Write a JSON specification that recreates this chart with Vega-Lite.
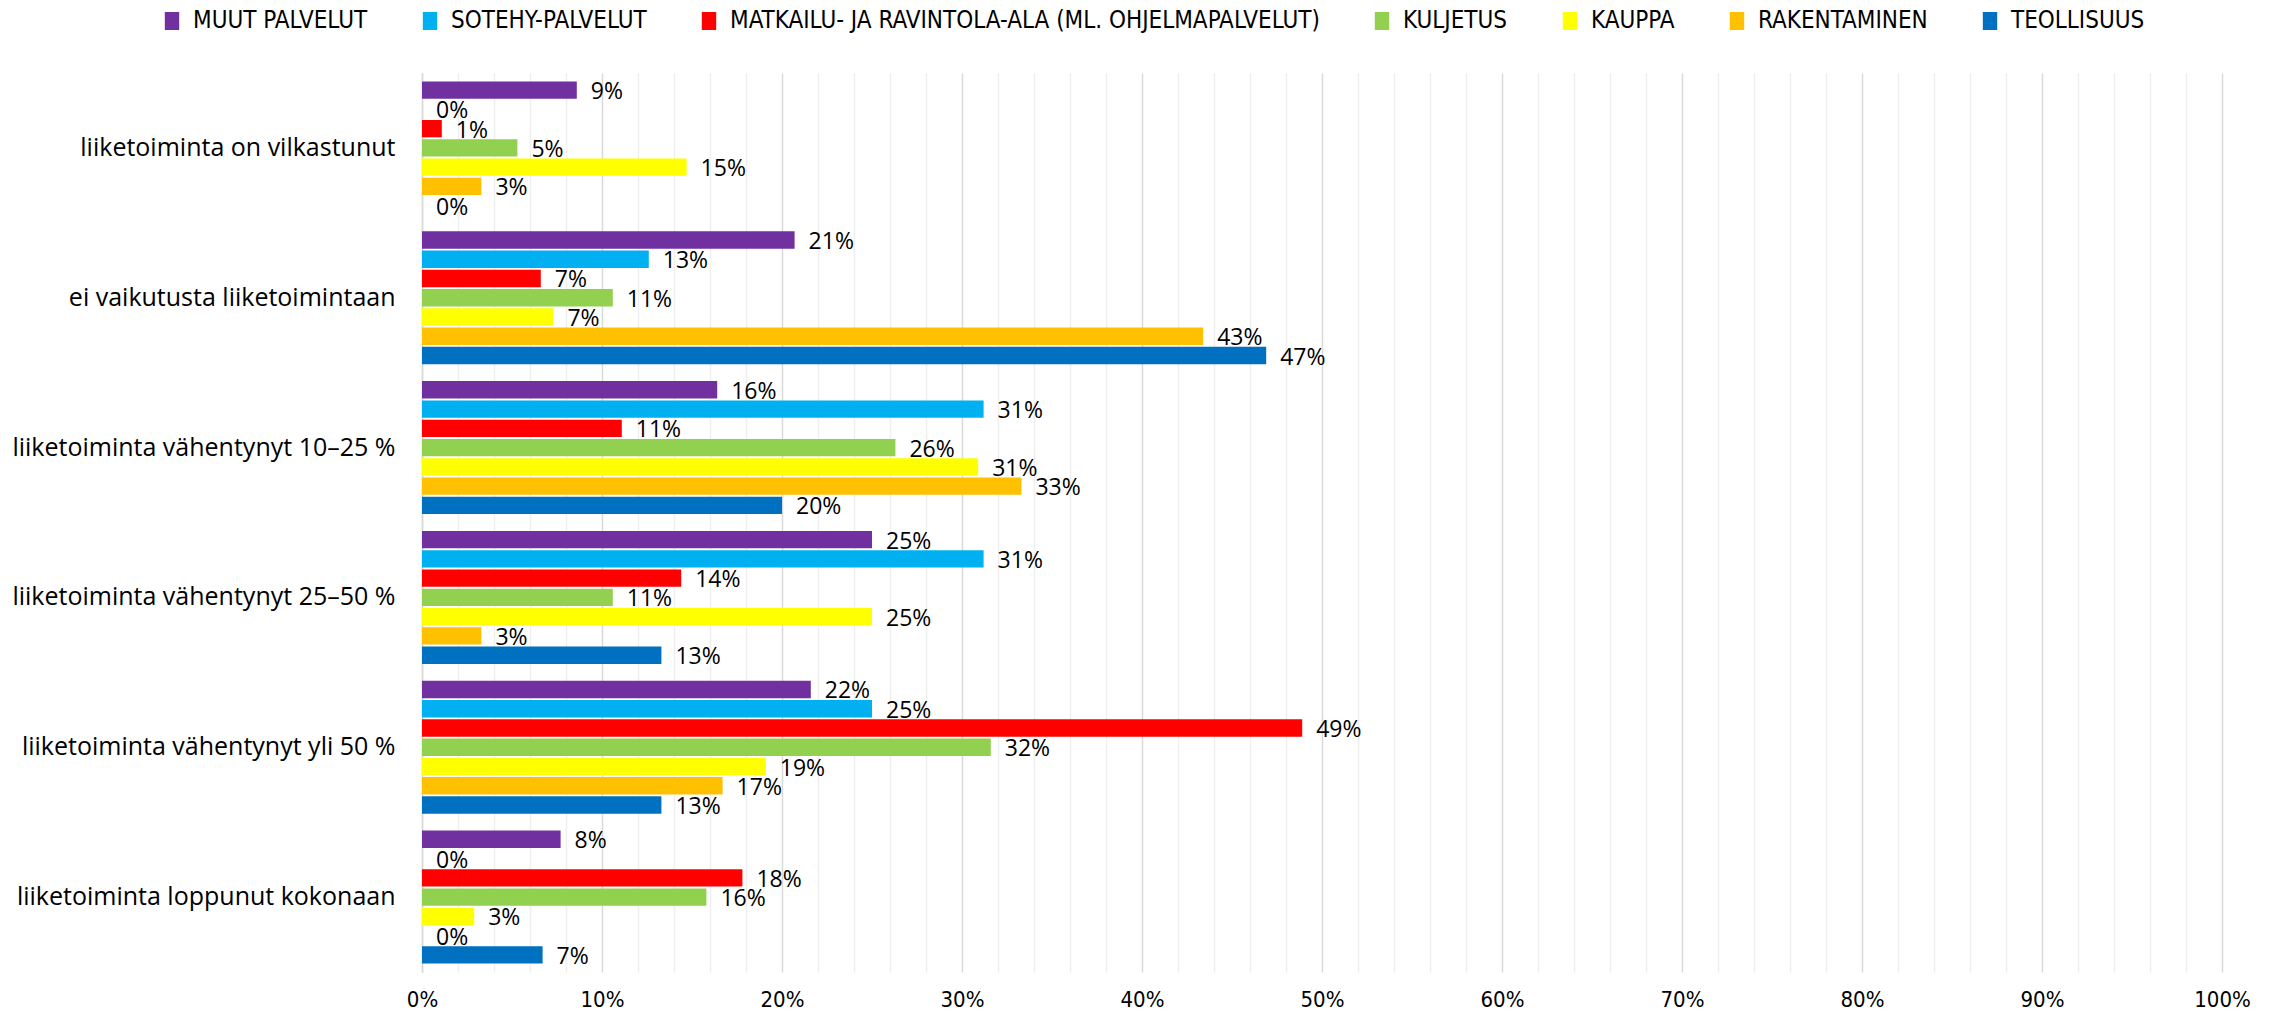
{
  "$schema": "https://vega.github.io/schema/vega-lite/v6.json",
  "width": 1800,
  "height": 899,
  "autosize": {"type": "none"},
  "padding": {"left": 422, "top": 73, "right": 60, "bottom": 44},
  "background": "white",
  "config": {"view": {"stroke": null}, "font": "Open Sans"},
  "data": {
    "values": [
      {"vaikutus": "liiketoiminta on vilkastunut", "toimiala": "MUUT PALVELUT", "osuus": 0.086},
      {"vaikutus": "liiketoiminta on vilkastunut", "toimiala": "SOTEHY-PALVELUT", "osuus": 0},
      {"vaikutus": "liiketoiminta on vilkastunut", "toimiala": "MATKAILU- JA RAVINTOLA-ALA (ML. OHJELMAPALVELUT)", "osuus": 0.011},
      {"vaikutus": "liiketoiminta on vilkastunut", "toimiala": "KULJETUS", "osuus": 0.053},
      {"vaikutus": "liiketoiminta on vilkastunut", "toimiala": "KAUPPA", "osuus": 0.147},
      {"vaikutus": "liiketoiminta on vilkastunut", "toimiala": "RAKENTAMINEN", "osuus": 0.033},
      {"vaikutus": "liiketoiminta on vilkastunut", "toimiala": "TEOLLISUUS", "osuus": 0},
      {"vaikutus": "ei vaikutusta liiketoimintaan", "toimiala": "MUUT PALVELUT", "osuus": 0.207},
      {"vaikutus": "ei vaikutusta liiketoimintaan", "toimiala": "SOTEHY-PALVELUT", "osuus": 0.126},
      {"vaikutus": "ei vaikutusta liiketoimintaan", "toimiala": "MATKAILU- JA RAVINTOLA-ALA (ML. OHJELMAPALVELUT)", "osuus": 0.066},
      {"vaikutus": "ei vaikutusta liiketoimintaan", "toimiala": "KULJETUS", "osuus": 0.106},
      {"vaikutus": "ei vaikutusta liiketoimintaan", "toimiala": "KAUPPA", "osuus": 0.073},
      {"vaikutus": "ei vaikutusta liiketoimintaan", "toimiala": "RAKENTAMINEN", "osuus": 0.434},
      {"vaikutus": "ei vaikutusta liiketoimintaan", "toimiala": "TEOLLISUUS", "osuus": 0.469},
      {"vaikutus": "liiketoiminta vähentynyt 10–25 %", "toimiala": "MUUT PALVELUT", "osuus": 0.164},
      {"vaikutus": "liiketoiminta vähentynyt 10–25 %", "toimiala": "SOTEHY-PALVELUT", "osuus": 0.312},
      {"vaikutus": "liiketoiminta vähentynyt 10–25 %", "toimiala": "MATKAILU- JA RAVINTOLA-ALA (ML. OHJELMAPALVELUT)", "osuus": 0.111},
      {"vaikutus": "liiketoiminta vähentynyt 10–25 %", "toimiala": "KULJETUS", "osuus": 0.263},
      {"vaikutus": "liiketoiminta vähentynyt 10–25 %", "toimiala": "KAUPPA", "osuus": 0.309},
      {"vaikutus": "liiketoiminta vähentynyt 10–25 %", "toimiala": "RAKENTAMINEN", "osuus": 0.333},
      {"vaikutus": "liiketoiminta vähentynyt 10–25 %", "toimiala": "TEOLLISUUS", "osuus": 0.2},
      {"vaikutus": "liiketoiminta vähentynyt 25–50 %", "toimiala": "MUUT PALVELUT", "osuus": 0.25},
      {"vaikutus": "liiketoiminta vähentynyt 25–50 %", "toimiala": "SOTEHY-PALVELUT", "osuus": 0.312},
      {"vaikutus": "liiketoiminta vähentynyt 25–50 %", "toimiala": "MATKAILU- JA RAVINTOLA-ALA (ML. OHJELMAPALVELUT)", "osuus": 0.144},
      {"vaikutus": "liiketoiminta vähentynyt 25–50 %", "toimiala": "KULJETUS", "osuus": 0.106},
      {"vaikutus": "liiketoiminta vähentynyt 25–50 %", "toimiala": "KAUPPA", "osuus": 0.25},
      {"vaikutus": "liiketoiminta vähentynyt 25–50 %", "toimiala": "RAKENTAMINEN", "osuus": 0.033},
      {"vaikutus": "liiketoiminta vähentynyt 25–50 %", "toimiala": "TEOLLISUUS", "osuus": 0.133},
      {"vaikutus": "liiketoiminta vähentynyt yli 50 %", "toimiala": "MUUT PALVELUT", "osuus": 0.216},
      {"vaikutus": "liiketoiminta vähentynyt yli 50 %", "toimiala": "SOTEHY-PALVELUT", "osuus": 0.25},
      {"vaikutus": "liiketoiminta vähentynyt yli 50 %", "toimiala": "MATKAILU- JA RAVINTOLA-ALA (ML. OHJELMAPALVELUT)", "osuus": 0.489},
      {"vaikutus": "liiketoiminta vähentynyt yli 50 %", "toimiala": "KULJETUS", "osuus": 0.316},
      {"vaikutus": "liiketoiminta vähentynyt yli 50 %", "toimiala": "KAUPPA", "osuus": 0.191},
      {"vaikutus": "liiketoiminta vähentynyt yli 50 %", "toimiala": "RAKENTAMINEN", "osuus": 0.167},
      {"vaikutus": "liiketoiminta vähentynyt yli 50 %", "toimiala": "TEOLLISUUS", "osuus": 0.133},
      {"vaikutus": "liiketoiminta loppunut kokonaan", "toimiala": "MUUT PALVELUT", "osuus": 0.077},
      {"vaikutus": "liiketoiminta loppunut kokonaan", "toimiala": "SOTEHY-PALVELUT", "osuus": 0},
      {"vaikutus": "liiketoiminta loppunut kokonaan", "toimiala": "MATKAILU- JA RAVINTOLA-ALA (ML. OHJELMAPALVELUT)", "osuus": 0.178},
      {"vaikutus": "liiketoiminta loppunut kokonaan", "toimiala": "KULJETUS", "osuus": 0.158},
      {"vaikutus": "liiketoiminta loppunut kokonaan", "toimiala": "KAUPPA", "osuus": 0.029},
      {"vaikutus": "liiketoiminta loppunut kokonaan", "toimiala": "RAKENTAMINEN", "osuus": 0},
      {"vaikutus": "liiketoiminta loppunut kokonaan", "toimiala": "TEOLLISUUS", "osuus": 0.067}
    ]
  },
  "encoding": {
    "y": {
      "field": "vaikutus",
      "type": "nominal",
      "sort": ["liiketoiminta on vilkastunut", "ei vaikutusta liiketoimintaan", "liiketoiminta vähentynyt 10–25 %", "liiketoiminta vähentynyt 25–50 %", "liiketoiminta vähentynyt yli 50 %", "liiketoiminta loppunut kokonaan"],
      "scale": {"paddingInner": 0.1, "paddingOuter": 0.05},
      "axis": {
        "title": null,
        "ticks": false,
        "domain": true,
        "domainColor": "#d9d9d9",
        "domainWidth": 1.5,
        "labelFont": "Open Sans",
        "labelFontSize": 25,
        "labelColor": "#000000",
        "labelPadding": 27,
        "labelLimit": 420
      }
    },
    "yOffset": {
      "field": "toimiala",
      "type": "nominal",
      "sort": ["MUUT PALVELUT", "SOTEHY-PALVELUT", "MATKAILU- JA RAVINTOLA-ALA (ML. OHJELMAPALVELUT)", "KULJETUS", "KAUPPA", "RAKENTAMINEN", "TEOLLISUUS"],
      "scale": {"paddingInner": 0.1, "paddingOuter": 0.05}
    },
    "x": {
      "field": "osuus",
      "type": "quantitative",
      "scale": {"domain": [0, 1], "nice": false},
      "axis": {
        "title": null,
        "values": [0, 0.02, 0.04, 0.06, 0.08, 0.1, 0.12, 0.14, 0.16, 0.18, 0.2, 0.22, 0.24, 0.26, 0.28, 0.3, 0.32, 0.34, 0.36, 0.38, 0.4, 0.42, 0.44, 0.46, 0.48, 0.5, 0.52, 0.54, 0.56, 0.58, 0.6, 0.62, 0.64, 0.66, 0.68, 0.7, 0.72, 0.74, 0.76, 0.78, 0.8, 0.82, 0.84, 0.86, 0.88, 0.9, 0.92, 0.94, 0.96, 0.98, 1],
        "format": ".0%",
        "labelExpr": "round(datum.value * 100) % 10 === 0 ? datum.label : ''",
        "labelOverlap": false,
        "labelFlush": false,
        "labelBound": false,
        "ticks": false,
        "domain": false,
        "grid": true,
        "gridColor": {"condition": {"test": "round(datum.value * 100) % 10 === 0", "value": "#d9d9d9"}, "value": "#efefef"},
        "gridWidth": 1.5,
        "labelFont": "DejaVu Sans Condensed",
        "labelFontSize": 22,
        "labelColor": "#000000",
        "labelPadding": 17
      }
    }
  },
  "layer": [
    {
      "mark": {"type": "bar"},
      "encoding": {
        "color": {
          "field": "toimiala",
          "type": "nominal",
          "scale": {
            "domain": ["MUUT PALVELUT", "SOTEHY-PALVELUT", "MATKAILU- JA RAVINTOLA-ALA (ML. OHJELMAPALVELUT)", "KULJETUS", "KAUPPA", "RAKENTAMINEN", "TEOLLISUUS"],
            "range": ["#7030A0", "#00B0F0", "#FF0000", "#92D050", "#FFFF00", "#FFC000", "#0070C0"]
          },
          "legend": {
            "title": null,
            "orient": "none",
            "direction": "horizontal",
            "columns": 7,
            "legendX": -262,
            "legendY": -64,
            "padding": 0,
            "symbolType": "M-0.8,-1H0.8V1H-0.8Z",
            "symbolSize": 324,
            "symbolStrokeWidth": 0,
            "labelFont": "DejaVu Sans Condensed",
            "labelFontSize": 24,
            "labelColor": "#000000",
            "labelOffset": 9,
            "columnPadding": 50,
            "labelLimit": 1000
          }
        }
      }
    },
    {
      "mark": {"type": "text", "align": "left", "baseline": "middle", "dx": 14, "dy": 2, "font": "Open Sans", "fontSize": 23, "color": "#000000"},
      "encoding": {
        "text": {"field": "osuus", "type": "quantitative", "format": ".0%"}
      }
    }
  ]
}
